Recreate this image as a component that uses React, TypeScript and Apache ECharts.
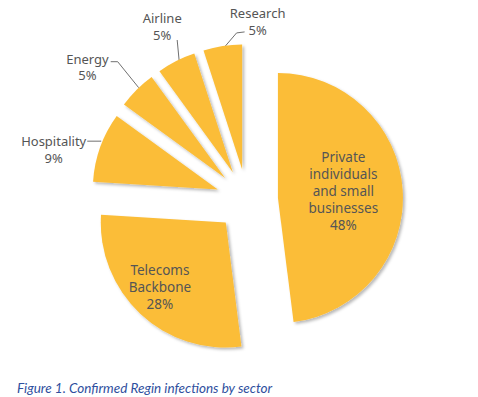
import React, { useEffect, useRef } from "react";
import * as echarts from "echarts";

// ---- data ----
const categories = [
  "Private\nindividuals\nand small\nbusinesses",
  "Telecoms\nBackbone",
  "Hospitality",
  "Energy",
  "Airline",
  "Research",
];
const values = [48, 28, 9, 5, 5, 5];
const caption = "Figure 1. Confirmed Regin infections by sector";

// ---- layout / style ----
const W = 478;
const H = 397;
const PIE_CENTER = [247, 200];
const RADIUS = 125;
const EXPLODE = 31;
const FONT = "Noto Sans";
const FONT_SIZE = 13;
const LINE_H = 16.5;
const SLICE_COLOR = "#FBBD38";
const TEXT_COLOR = "#555555";
const LEADER_COLOR = "#707070";
const CAPTION_COLOR = "#2F4F9E";

function sliceGeometry() {
  const total = values.reduce((a, b) => a + b, 0);
  let cum = 0;
  return values.map((v) => {
    const start = (cum / total) * 360;
    cum += v;
    const mid = start + (v / total) * 180;
    const rad = (mid * Math.PI) / 180;
    const cx = PIE_CENTER[0] + EXPLODE * Math.sin(rad);
    const cy = PIE_CENTER[1] - EXPLODE * Math.cos(rad);
    const ox = cx + RADIUS * Math.sin(rad);
    const oy = cy - RADIUS * Math.cos(rad);
    return { cx, cy, ox, oy };
  });
}

function layoutFor(i: number, geo: { ox: number; oy: number }) {
  return (params: any) => {
    if (params.dataIndex !== i) return {};
    const w = params.labelRect ? params.labelRect.width : 40;
    const x = geo.ox;
    const y = geo.oy;
    switch (i) {
      case 0:
        return { dx: 0, dy: -3 };
      case 1:
        return { dx: -21, dy: 17 };
      case 2:
        return {
          x: x - 14 - w / 2,
          y: y - 6 - LINE_H / 2,
          align: "center",
          verticalAlign: "top",
          labelLinePoints: [
            [x + 1, y - 6],
            [x - 13, y - 6],
          ],
        };
      case 3:
        return {
          x: x - 28 - w / 2,
          y: y - 31 - LINE_H / 2,
          align: "center",
          verticalAlign: "top",
          labelLinePoints: [
            [x + 2, y - 2],
            [x - 19, y - 28],
            [x - 26, y - 28],
          ],
        };
      case 4:
        return {
          x: x - 14,
          y: y - 18,
          align: "center",
          verticalAlign: "bottom",
          labelLinePoints: [
            [x + 3, y],
            [x + 1, y - 21],
          ],
        };
      case 5:
        return {
          x: x + 35,
          y: y - 8,
          align: "center",
          verticalAlign: "bottom",
          labelLinePoints: [
            [x + 2, y + 1],
            [x + 14, y - 13],
            [x + 22, y - 14],
          ],
        };
    }
    return {};
  };
}

export default function App() {
  const ref = useRef<HTMLDivElement>(null);
  useEffect(() => {
    if (!ref.current) return;
    const chart = echarts.init(ref.current, undefined, { renderer: "svg" });
    const geo = sliceGeometry();
    const series = values.map((_, i) => ({
      type: "pie",
      center: [geo[i].cx, geo[i].cy],
      radius: [0, RADIUS],
      startAngle: 90,
      clockwise: true,
      avoidLabelOverlap: false,
      selectedMode: false,
      silent: true,
      minAngle: 0,
      z: 2,
      data: values.map((v, j) => {
        const own = j === i;
        const inside = j < 2;
        return {
          value: v,
          name: categories[j],
          itemStyle: own
            ? {
                color: SLICE_COLOR,
                borderWidth: 0,
                shadowBlur: 3,
                shadowOffsetX: 2,
                shadowOffsetY: 2,
                shadowColor: "rgba(0,0,0,0.28)",
              }
            : { color: "transparent", borderWidth: 0 },
          label: own
            ? {
                show: true,
                position: inside ? "inside" : "outside",
                formatter: "{b}\n{c}%",
                color: TEXT_COLOR,
                fontFamily: FONT,
                fontSize: inside ? 13.5 : FONT_SIZE,
                lineHeight: inside ? 17 : LINE_H,
                align: "center",
              }
            : { show: false },
          labelLine: own && !inside
            ? { show: true, length: 10, length2: 10, lineStyle: { color: LEADER_COLOR, width: 1 } }
            : { show: false },
        };
      }),
      labelLayout: layoutFor(i, geo[i]),
    }));

    chart.setOption({
      animation: false,
      backgroundColor: "#ffffff",
      title: {
        text: caption,
        left: 12,
        top: 376,
        textStyle: {
          fontFamily: "Lato",
          fontStyle: "italic",
          fontWeight: "normal",
          fontSize: 13.5,
          color: CAPTION_COLOR,
        },
      },
      series,
    } as any);
    return () => chart.dispose();
  }, []);
  return (
    <div
      ref={ref}
      style={{ position: "absolute", left: 0, top: 0, width: W, height: H }}
    />
  );
}
